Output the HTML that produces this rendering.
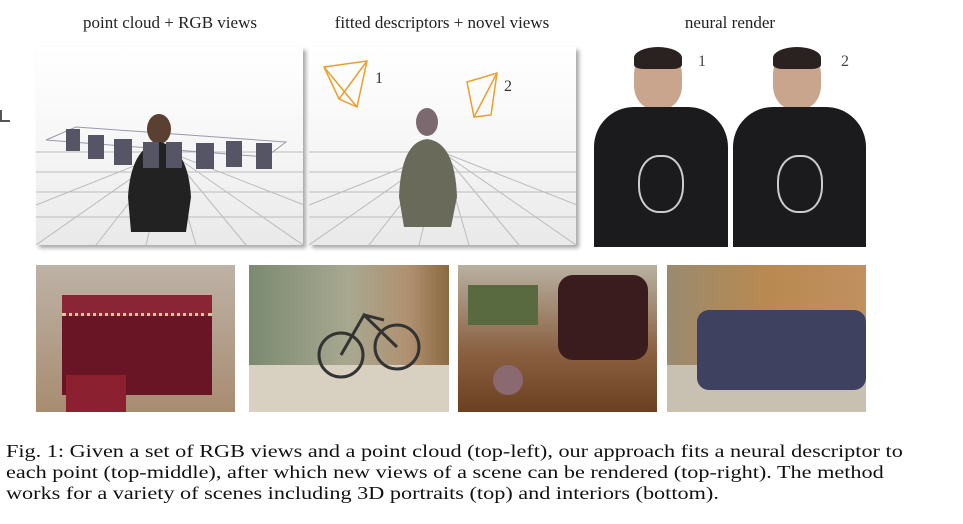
<!DOCTYPE html>
<html><head><meta charset="utf-8"><style>
body{margin:0;width:963px;height:524px;background:#fff;position:relative;overflow:hidden;font-family:"Liberation Serif",serif;}
.t{position:absolute;top:13px;font-size:17px;color:#222;white-space:nowrap;transform:translateX(-50%);}
.p{position:absolute;overflow:hidden;}
.sh{box-shadow:3px 3px 4px rgba(0,0,0,0.35);}
.cap{position:absolute;left:6px;top:441px;font-size:17.5px;line-height:21px;color:#111;white-space:nowrap;transform:scaleX(1.27);transform-origin:0 0;}
</style></head><body>
<div class="t" style="left:170px">point cloud + RGB views</div>
<div class="t" style="left:442px">fitted descriptors + novel views</div>
<div class="t" style="left:730px">neural render</div>
<div style="position:absolute;left:0;top:110px;width:8px;height:10px;border-left:2px solid #555;border-bottom:2px solid #555"></div>

<div class="p sh" style="left:36px;top:47px;width:267px;height:198px;background:linear-gradient(#fff 0,#f6f6f6 50%,#e9e9e9 100%)">
<svg width="267" height="198">
<g stroke="#bbb" stroke-width="1">
<line x1="0" y1="105" x2="267" y2="105"/>
<line x1="0" y1="125" x2="267" y2="125"/><line x1="0" y1="145" x2="267" y2="145"/><line x1="0" y1="170" x2="267" y2="170"/>
<line x1="133" y1="105" x2="-100" y2="198"/><line x1="133" y1="105" x2="0" y2="198"/><line x1="133" y1="105" x2="60" y2="198"/><line x1="133" y1="105" x2="110" y2="198"/>
<line x1="133" y1="105" x2="160" y2="198"/><line x1="133" y1="105" x2="210" y2="198"/><line x1="133" y1="105" x2="267" y2="198"/><line x1="133" y1="105" x2="370" y2="198"/>
</g>
<polygon points="10,93 40,80 250,95 230,110" fill="none" stroke="#99a" stroke-width="1"/>
<ellipse cx="123" cy="82" rx="12" ry="15" fill="#5a4030"/>
<path d="M92,150 Q95,100 123,95 Q152,100 155,150 L150,185 L95,185 Z" fill="#222"/>
<g fill="#556">
<rect x="30" y="82" width="14" height="22"/><rect x="52" y="88" width="16" height="24"/><rect x="78" y="92" width="18" height="26"/><rect x="107" y="95" width="16" height="26"/>
<rect x="130" y="95" width="16" height="26"/><rect x="160" y="96" width="18" height="26"/><rect x="190" y="94" width="16" height="26"/><rect x="220" y="96" width="16" height="26"/></g>
</svg></div>

<div class="p sh" style="left:309px;top:47px;width:267px;height:198px;background:linear-gradient(#fff 0,#f6f6f6 50%,#e9e9e9 100%)">
<svg width="267" height="198">
<g stroke="#bbb" stroke-width="1">
<line x1="0" y1="105" x2="267" y2="105"/>
<line x1="0" y1="125" x2="267" y2="125"/><line x1="0" y1="145" x2="267" y2="145"/><line x1="0" y1="170" x2="267" y2="170"/>
<line x1="133" y1="105" x2="-100" y2="198"/><line x1="133" y1="105" x2="0" y2="198"/><line x1="133" y1="105" x2="60" y2="198"/><line x1="133" y1="105" x2="110" y2="198"/>
<line x1="133" y1="105" x2="160" y2="198"/><line x1="133" y1="105" x2="210" y2="198"/><line x1="133" y1="105" x2="267" y2="198"/><line x1="133" y1="105" x2="370" y2="198"/>
</g>
<g fill="none" stroke="#e8a030" stroke-width="1.5">
<polygon points="15,20 58,14 48,60 30,52"/><line x1="15" y1="20" x2="48" y2="60"/><line x1="58" y1="14" x2="30" y2="52"/>
<polygon points="158,35 188,26 182,68 165,70"/><line x1="188" y1="26" x2="165" y2="70"/></g>
<text x="66" y="36" font-size="16" fill="#333">1</text><text x="195" y="44" font-size="16" fill="#333">2</text>
<ellipse cx="118" cy="75" rx="11" ry="14" fill="#7a6a70"/>
<path d="M90,150 Q92,95 118,92 Q146,95 148,150 L142,180 L95,180 Z" fill="#6a6a5a"/>
</svg></div>

<div class="p" style="left:594px;top:47px;width:134px;height:200px;background:#fff">
<div style="position:absolute;left:40px;top:4px;width:48px;height:58px;border-radius:40%;background:#c9a58e"></div>
<div style="position:absolute;left:40px;top:0;width:48px;height:22px;border-radius:50% 50% 20% 20%;background:#2a2220"></div>
<div style="position:absolute;left:0;top:60px;width:134px;height:140px;border-radius:40px 40px 0 0;background:#1b1b1d"></div>
<div style="position:absolute;left:44px;top:108px;width:42px;height:54px;border-radius:45%;border:2px solid #ccc"></div>
<span style="position:absolute;left:104px;top:6px;font-size:16px;color:#444">1</span></div>
<div class="p" style="left:733px;top:47px;width:133px;height:200px;background:#fff">
<div style="position:absolute;left:40px;top:4px;width:48px;height:58px;border-radius:40%;background:#c9a58e"></div>
<div style="position:absolute;left:40px;top:0;width:48px;height:22px;border-radius:50% 50% 20% 20%;background:#2a2220"></div>
<div style="position:absolute;left:0;top:60px;width:133px;height:140px;border-radius:40px 40px 0 0;background:#1b1b1d"></div>
<div style="position:absolute;left:44px;top:108px;width:42px;height:54px;border-radius:45%;border:2px solid #ccc"></div>
<span style="position:absolute;left:108px;top:6px;font-size:16px;color:#444">2</span></div>

<div class="p" style="left:36px;top:265px;width:199px;height:147px;background:linear-gradient(#bdb2a6,#a88c70)">
<div style="position:absolute;left:26px;top:30px;width:150px;height:100px;background:#6a1525"></div>
<div style="position:absolute;left:26px;top:30px;width:150px;height:18px;background:#8a2535;border-bottom:3px dotted #d8c8a0"></div>
<div style="position:absolute;left:30px;top:110px;width:60px;height:37px;background:#8a2030"></div></div>
<div class="p" style="left:249px;top:265px;width:200px;height:147px;background:linear-gradient(90deg,#7a8a70,#a8a890 50%,#b09070 80%,#8a6a40)">
<div style="position:absolute;left:0;top:100px;width:200px;height:47px;background:#d8d0c0"></div>
<svg width="200" height="147" style="position:absolute;left:0;top:0"><g fill="none" stroke="#333" stroke-width="3"><circle cx="92" cy="90" r="22"/><circle cx="148" cy="82" r="22"/><path d="M92,90 L115,50 L148,82 M115,50 L135,55"/></g></svg></div>
<div class="p" style="left:458px;top:265px;width:199px;height:147px;background:linear-gradient(#b8b0a0,#8a6040 60%,#6a4020)">
<div style="position:absolute;left:100px;top:10px;width:90px;height:85px;border-radius:15px;background:#3a1c1e"></div>
<div style="position:absolute;left:10px;top:20px;width:70px;height:40px;background:#5a6a40"></div>
<div style="position:absolute;left:35px;top:100px;width:30px;height:30px;border-radius:50%;background:#8a6a70"></div></div>
<div class="p" style="left:667px;top:265px;width:199px;height:147px;background:linear-gradient(90deg,#9a8a70,#b88a50 50%,#c09060)">
<div style="position:absolute;left:0;top:100px;width:199px;height:47px;background:#c8c0b0"></div>
<div style="position:absolute;left:30px;top:45px;width:169px;height:80px;border-radius:12px;background:#3e4260"></div></div>

<div class="cap">Fig. 1: Given a set of RGB views and a point cloud (top-left), our approach fits a neural descriptor to<br>each point (top-middle), after which new views of a scene can be rendered (top-right). The method<br>works for a variety of scenes including 3D portraits (top) and interiors (bottom).</div>
</body></html>
